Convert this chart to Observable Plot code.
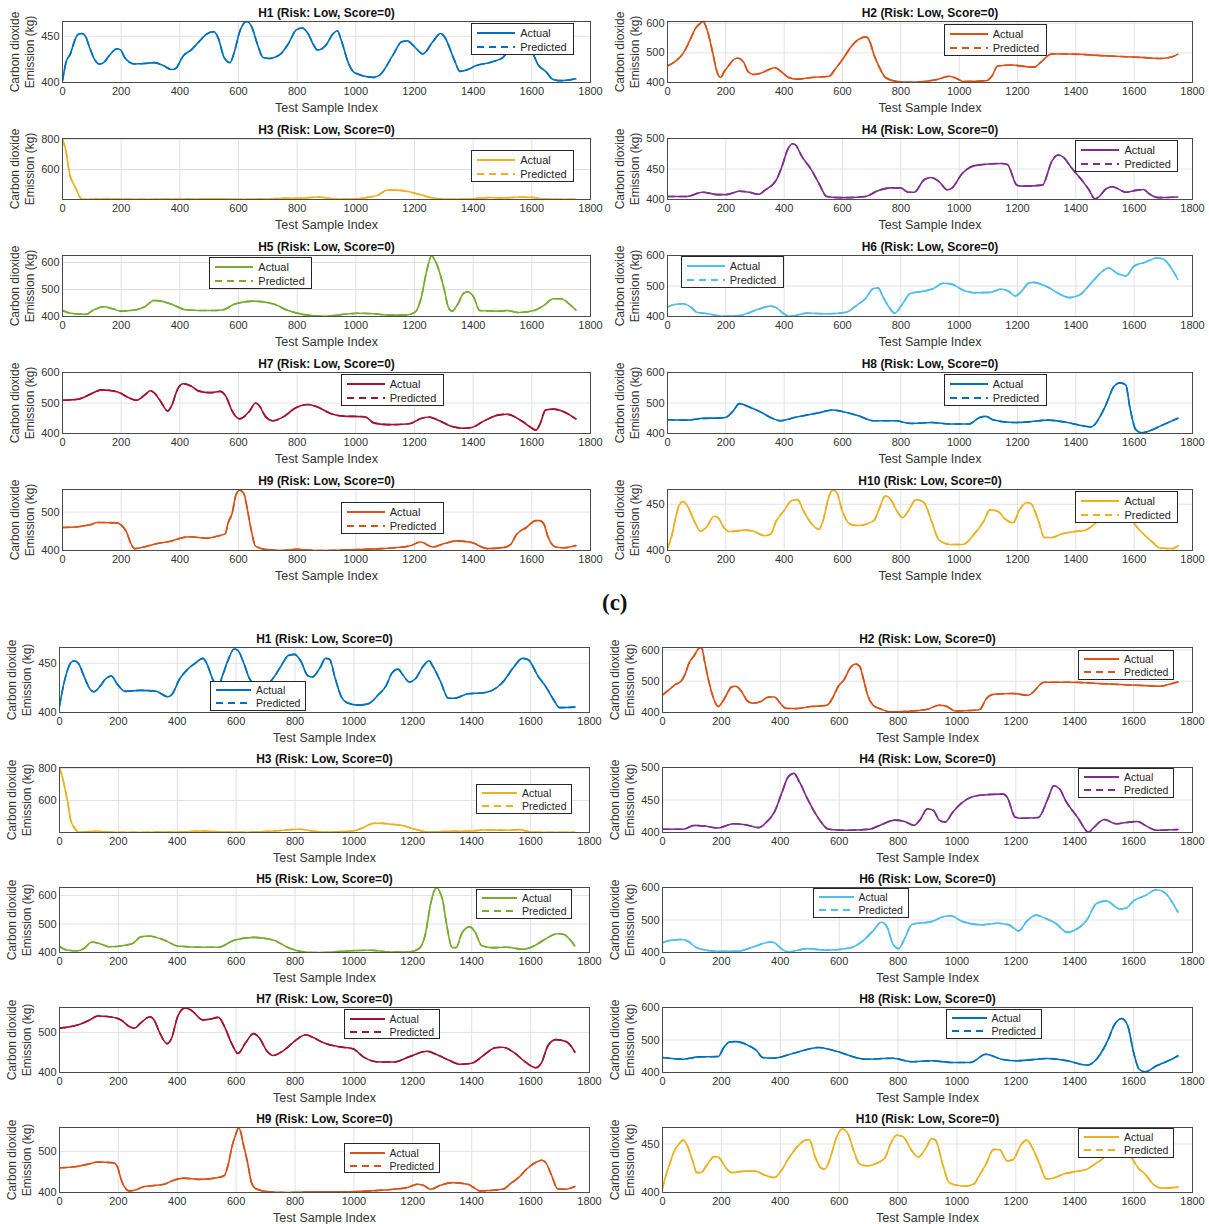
<!DOCTYPE html>
<html>
<head>
<meta charset="utf-8">
<script src="https://cdn.jsdelivr.net/npm/d3@7"></script>
<script src="https://cdn.jsdelivr.net/npm/@observablehq/plot@0.6"></script>
<style>
  body { margin: 0; background: #fff; }
  #page { position: relative; width: 1209px; height: 1224px; overflow: hidden; background: #fff;
          font-family: "Liberation Sans", Arial, Helvetica, sans-serif; }
  .panel { position: absolute; }
  .legend { position: absolute; background: #fff; border: 1px solid #262626; box-sizing: border-box;
            color: #262626; }
  .legend .row { position: absolute; left: 4px; display: flex; align-items: center; }
  .legend .row span { margin-left: 4px; white-space: nowrap; }
  .ylabel { position: absolute; width: 110px; height: 30px; font-size: 12px; line-height: 15px;
            text-align: center; color: #333; transform: rotate(-90deg); white-space: nowrap; }
  .tag { position: absolute; font-family: "Liberation Serif", "DejaVu Serif", serif; font-weight: bold;
         font-size: 23px; color: #111; }
</style>
</head>
<body>
<div id="page"></div>
<script>
// ---- shared labels ----
const houses = ["H1", "H2", "H3", "H4", "H5", "H6", "H7", "H8", "H9", "H10"];
const riskLevels = ["Low", "Low", "Low", "Low", "Low", "Low", "Low", "Low", "Low", "Low"];
const riskScores = [0, 0, 0, 0, 0, 0, 0, 0, 0, 0];
const xTicks = [0, 200, 400, 600, 800, 1000, 1200, 1400, 1600, 1800];
const seriesNames = ["Actual", "Predicted"];
const yLabelLines = ["Carbon dioxide", "Emission (kg)"];
const houseColors = ["#0072BD", "#D95319", "#EDB120", "#7E2F8E", "#77AC30",
                     "#4DBEEE", "#A2142F", "#0072BD", "#D95319", "#EDB120"];

// ---- upper set: CO2 emission per test sample [index, kg] ----
const upperH1 = [[0,402],[13,423],[27,431],[40,444],[53,452],[66,453],[80,449],[90,440],[106,427],[126,420],[140,421.5],[159,429],[186,436.5],[199,435],[212,427],[246,420],[279,420.5],[312,421.5],[345,418],[372,414],[385,415],[412,429],[438,435],[465,444],[492,452.5],[516,455],[531,448],[551,427],[571,421.5],[584,431],[604,455],[627,466],[644,461],[664,442],[684,427],[704,426],[744,431],[770,442],[797,457],[817,459],[837,453],[857,440],[870,435],[897,440],[923,453],[937,456],[950,446],[976,420],[996,410.5],[1063,405.5],[1083,408.5],[1129,431],[1156,444],[1176,445],[1196,440],[1229,431],[1262,444],[1289,453],[1302,449.5],[1335,425],[1355,412],[1382,414],[1408,418],[1461,422],[1501,427],[1530,440],[1560,454],[1580,452],[1607,429],[1620,420],[1647,412],[1674,403],[1700,402],[1750,404]];
const upperH2 = [[0,455.5],[29,473],[49,492.5],[62,513],[82,554],[96,583],[116,602],[122,606],[136,577],[156,496],[169,438],[182,417],[195,438],[209,455.5],[229,479],[242,482],[262,467],[275,438],[295,427],[322,432],[348,444],[368,450],[388,438],[415,417],[441,411.5],[495,417],[554,421],[574,444],[601,479],[628,519],[654,545],[681,554],[694,537],[707,496],[727,450],[747,417],[787,403.5],[840,401],[920,409],[966,421],[993,413],[1013,403.5],[1093,406],[1112,421],[1132,455.5],[1185,459],[1212,455.5],[1258,452],[1278,467],[1318,496],[1372,496],[1505,490],[1638,484],[1691,481],[1731,487],[1750,496]];
const upperH3 = [[0,800],[13,709],[20,618],[27,550],[37,505],[47,470],[60,414],[67,403],[80,403],[140,406],[200,404],[260,402],[350,404],[420,404],[478,405],[520,406],[560,404],[620,403],[700,404],[760,409],[820,410],[870,418],[900,412],[930,404],[1000,405],[1040,415],[1076,430],[1107,464],[1140,463],[1182,452],[1222,432],[1275,407],[1320,403],[1400,406],[1453,414],[1500,412],[1560,416],[1600,415],[1640,404],[1700,403],[1750,403]];
const upperH4 = [[0,405],[67,405],[120,412],[173,408],[200,408],[246,413.5],[280,412],[313,408.5],[333,415],[373,432],[393,455],[413,483],[429,491.5],[440,489],[459,472],[493,449],[519,426.5],[546,405],[599,403],[679,405],[719,414],[766,419],[799,419],[826,412],[846,412],[879,432],[903,436],[932,429],[959,416],[972,417.5],[1012,443.5],[1058,456],[1145,459],[1165,457.5],[1198,423.5],[1218,422],[1285,423.5],[1318,463],[1338,473],[1358,469],[1385,452],[1425,429],[1445,416],[1465,401],[1478,404],[1505,418],[1525,421],[1572,412],[1605,415],[1632,416.5],[1651,409.5],[1685,403],[1750,404]];
const upperH5 = [[0,422],[27,412],[80,408],[106,424],[140,436],[173,428],[199,420],[246,424],[279,435],[312,459.5],[332,458],[372,445],[425,424],[505,422],[545,424],[585,445],[651,457],[717,447],[770,422],[823,407],[890,400.5],[943,406],[1010,412],[1063,410],[1116,405],[1169,405],[1202,416],[1222,466],[1242,571],[1258,624],[1275,596],[1302,497],[1315,435],[1328,420],[1348,447],[1368,487],[1382,491],[1402,472],[1422,422],[1488,420],[1515,422],[1554,415],[1607,422],[1641,441],[1674,466],[1700,466],[1727,447],[1750,424]];
const upperH6 = [[0,431],[27,440],[53,442],[80,431],[100,414],[140,409],[186,401],[246,403],[306,422],[353,434],[373,429],[399,409],[419,401],[479,411],[546,409],[612,414],[652,439],[679,459],[706,492],[722,494],[739,464],[759,431],[779,411],[806,442],[833,476],[866,481],[912,492],[945,509],[972,507],[1012,487],[1052,478],[1105,479],[1145,490],[1172,481],[1192,467],[1212,481],[1238,509],[1252,512],[1305,496],[1345,473],[1378,462],[1412,470],[1452,509],[1491,548],[1511,559],[1545,540],[1572,533],[1598,564],[1638,578],[1678,592],[1698,589],[1731,553],[1750,522]];
const upperH7 = [[0,509],[53,512.5],[106,534],[133,543],[186,537],[226,517],[252,509],[286,531],[299,540],[312,534],[332,509],[359,474],[372,491],[392,545],[412,563],[438,556],[465,539],[505,534],[538,538],[558,520],[578,474],[604,448],[638,474],[658,500],[671,491],[691,457],[717,442],[757,457],[791,482],[837,495],[863,489],[916,465],[956,457],[1030,455],[1063,434],[1116,429],[1182,432],[1222,449],[1249,454],[1275,446],[1328,423],[1368,417],[1395,419.5],[1435,440],[1488,461],[1515,463],[1567,440],[1601,417],[1614,411],[1627,429],[1647,477],[1674,480],[1714,469],[1750,448]];
const upperH8 = [[0,445],[67,444],[120,449.5],[186,451],[200,453],[226,475],[246,498],[280,487],[320,470],[359,450],[386,442],[439,453],[519,468],[566,477],[599,472],[652,459],[706,442],[786,442],[812,436],[839,433],[905,436],[972,431],[1032,431],[1072,453],[1092,456],[1118,444],[1185,436],[1238,438],[1305,444],[1372,436],[1425,425],[1452,421],[1485,459],[1505,498],[1531,555],[1551,566],[1571,560],[1585,487],[1605,413.5],[1625,402],[1651,408],[1691,425],[1750,450]];
const upperH9 = [[0,460],[53,462],[93,467],[120,473],[186,472],[199,467],[219,447],[232,420],[246,405],[266,407],[319,417.5],[372,425],[412,434],[432,436],[492,432],[531,438],[555,444],[565,473],[578,496],[591,544],[604,557],[618,549],[631,504],[644,451],[658,411.5],[691,403],[744,400],[797,403],[877,400],[983,402],[1089,405],[1182,411.5],[1222,422],[1262,409],[1302,418],[1342,425],[1395,421],[1448,405],[1501,407.5],[1528,416],[1548,442],[1581,460],[1614,478],[1627,478],[1641,469],[1654,438],[1681,409],[1707,407],[1750,413]];
const upperH10 = [[0,402],[13,414],[27,434],[40,449],[53,453],[67,449],[93,431],[113,421],[133,425],[160,437],[173,435.5],[193,425],[213,420.5],[266,422],[293,421],[333,416],[353,417.5],[373,432],[399,443],[426,454],[446,455],[466,443],[499,427],[519,423],[533,432],[553,458],[566,465],[579,463.5],[599,443],[626,428.5],[652,427],[706,432],[726,445],[746,459],[766,455],[786,443],[806,435.5],[826,443],[852,455],[879,452],[905,432],[932,411],[972,406.5],[1012,406.5],[1052,418],[1085,432],[1105,444],[1132,442.5],[1158,434],[1185,430],[1205,443],[1232,452],[1245,451],[1272,432],[1292,414],[1318,414],[1352,418],[1398,420.5],[1432,422],[1465,429],[1500,440],[1530,452],[1560,450],[1605,427],[1638,416],[1665,408.5],[1685,403],[1731,402],[1750,405]];

// ---- set (c): CO2 emission per test sample [index, kg] ----
const lowerH1 = [[0,406.5],[11,424],[24,440],[37,450],[50,452.5],[64,450],[83,437],[103,424],[116,421],[136,426],[156,434],[176,437],[196,429],[222,421.5],[275,422.5],[328,421.5],[368,416],[381,418],[408,434],[434,443.5],[461,450],[487,455],[500,450],[520,434],[540,427],[553,437],[573,453.5],[593,464.5],[606,463],[626,450],[646,434],[670,428],[700,428],[725,434.5],[752,447],[778,458],[798,459],[818,453],[844,437],[858,436],[884,445],[904,455],[917,454],[937,434],[957,416],[977,410],[1016,407.5],[1050,409],[1083,418],[1109,427],[1129,440],[1149,444],[1169,437],[1188,431],[1208,434],[1235,447],[1255,452.5],[1268,447],[1294,431.5],[1321,414.5],[1341,414.5],[1387,419],[1440,420],[1473,423],[1506,431],[1545,447],[1572,455],[1592,453.5],[1625,437],[1652,426],[1678,413],[1698,405],[1750,405.5]];
const lowerH2 = [[0,456],[24,474],[43,489.5],[63,500],[76,521],[90,558],[109,584],[123,605],[133,608],[142,568],[156,505],[169,458],[182,426],[189,419],[202,431.5],[215,452.5],[235,482],[248,484],[268,468],[288,437],[307,429.5],[334,435],[360,449.5],[380,449.5],[400,429.5],[419,413.5],[452,412.5],[505,419],[558,423],[578,447],[597,484],[617,505],[637,542],[657,555],[670,547],[683,505],[696,458],[716,423],[743,410.5],[775,402],[847,405],[900,410.5],[940,423],[966,419],[993,405],[1059,407],[1079,410.5],[1098,442],[1124,458],[1190,461],[1243,455],[1256,463],[1296,497],[1375,497],[1507,491.5],[1639,486],[1692,484],[1725,491.5],[1750,498]];
const lowerH3 = [[0,806],[11,737],[21,653],[30,568],[37,484],[50,432],[64,404],[116,408],[196,402],[300,403],[400,404],[487,410],[560,404],[640,403],[725,410],[818,421],[858,410],[897,403],[990,408],[1030,431],[1069,459],[1100,458],[1122,453],[1162,446],[1201,425],[1255,404],[1321,408],[1387,408],[1440,417],[1519,415],[1560,419],[1600,404],[1652,402],[1750,403]];
const lowerH4 = [[0,405],[70,405],[109,411],[142,410],[189,407],[241,413.5],[281,412],[327,407.5],[353,416],[380,431.5],[406,462],[426,485],[446,491],[466,477],[492,452],[531,421],[564,405],[624,403.5],[703,405],[743,412],[789,419],[822,417],[854,411],[874,419],[900,436.5],[920,434],[940,419],[960,416],[986,431.5],[1019,446.5],[1072,457],[1158,459],[1171,454],[1197,424],[1217,422],[1276,423],[1309,452],[1329,472],[1349,467],[1369,449],[1409,424],[1448,400.5],[1461,406],[1501,420],[1540,413.5],[1586,416],[1613,417],[1639,411],[1678,403.5],[1750,404.5]];
const lowerH5 = [[0,421],[24,409],[64,406],[83,414],[110,437],[143,429],[169,420],[222,425.5],[249,432],[275,454],[302,458],[355,444],[401,423],[487,418.5],[540,418.5],[593,443],[659,453],[725,444],[778,417],[831,402],[884,400],[990,406],[1056,408],[1122,402],[1188,402],[1221,414],[1241,458],[1261,573],[1271,612],[1281,627],[1292,612],[1301,585],[1314,503],[1334,417],[1347,417],[1367,469],[1393,490],[1413,469],[1433,425],[1466,417],[1519,418.5],[1572,411.5],[1612,423],[1652,448.5],[1691,466],[1711,464],[1750,423]];
const lowerH6 = [[0,430],[30,438],[63,440],[90,433],[109,418],[149,407],[189,404],[255,404],[307,417],[367,432.5],[380,430],[406,410],[426,402],[492,412],[551,407],[637,414],[676,432.5],[716,467.5],[743,493],[762,480],[782,427],[802,412],[822,442],[848,487],[914,495],[953,510],[979,513],[1019,495],[1085,485],[1138,490],[1177,485],[1210,466],[1236,495],[1269,515],[1296,507],[1335,490],[1375,462],[1401,469],[1441,500],[1474,551],[1507,559],[1553,534],[1573,536],[1600,559],[1639,575],[1678,593],[1705,585],[1731,555],[1750,525]];
const lowerH7 = [[0,510.5],[64,519],[103,531],[130,541],[169,539],[209,531],[236,515],[255,510.5],[275,523],[308,539],[321,531],[341,498],[365,472],[381,486],[401,539],[427,561],[447,555.5],[487,531],[513,533],[540,537.5],[560,515],[586,470],[606,447.5],[632,474],[659,497],[679,486],[705,453],[725,442.5],[765,457],[805,482],[837,494],[858,488.5],[897,474],[950,464],[996,459],[1036,437],[1089,426],[1135,426],[1188,439],[1248,453],[1281,445],[1321,431],[1360,420.5],[1400,423],[1440,442.5],[1479,461.5],[1506,463],[1545,449],[1585,424.5],[1618,412],[1638,426],[1658,465.5],[1685,482],[1718,478],[1738,465.5],[1750,451]];
const lowerH8 = [[0,446],[70,441],[123,448],[189,449],[208,477],[228,494],[248,495],[294,482],[320,467],[340,446],[373,444],[452,461],[531,477],[584,467],[690,441],[782,444],[848,433],[914,436],[980,431],[1046,431],[1098,456],[1151,441],[1204,436],[1309,443],[1375,436],[1441,422.5],[1474,441],[1494,467],[1514,502],[1533,544],[1560,566],[1580,544],[1600,461.5],[1619,410],[1639,402],[1678,420.5],[1718,436],[1750,451]];
const lowerH9 = [[0,460],[64,464],[103,470],[130,474],[183,472],[196,464],[209,432],[222,412],[236,404],[255,405.5],[288,414.5],[328,417.5],[355,420],[388,430],[421,435],[474,432],[527,435],[560,441.5],[573,468],[586,512],[600,544],[609,557.5],[626,512],[639,472],[652,424],[666,409.5],[712,401.5],[765,400],[858,401.5],[964,401.5],[1056,404],[1135,408],[1182,412],[1215,420],[1235,417.5],[1261,408],[1294,417.5],[1334,424],[1387,420],[1407,412],[1427,404],[1506,408],[1533,422.5],[1559,436],[1585,456],[1618,473.5],[1638,478.5],[1652,472],[1672,440],[1691,409.5],[1718,408],[1750,414.5]];
const lowerH10 = [[0,404],[11,417],[24,429],[37,440.5],[57,450.5],[70,454],[83,449],[103,432],[116,420.5],[129,420.5],[156,430.5],[175,437],[189,436.5],[215,425.5],[235,420.5],[281,422],[314,422],[347,418],[380,415.5],[400,421],[426,434],[459,447.5],[485,454],[499,454.5],[518,437],[538,425.5],[551,424],[571,437],[591,457],[611,465.5],[630,460.5],[650,442.5],[670,429],[696,427.5],[729,430.5],[755,435.5],[775,450.5],[795,459],[815,458],[848,442.5],[868,436.5],[894,445.5],[914,455.5],[927,454],[953,427.5],[973,410.5],[993,408],[1026,406.5],[1059,409],[1072,415.5],[1098,429],[1125,444.5],[1145,444],[1171,432.5],[1191,434],[1217,449],[1237,454],[1257,445.5],[1283,427.5],[1303,414],[1329,415],[1362,419],[1402,421.5],[1441,424],[1474,430.5],[1494,434.5],[1520,445],[1545,452],[1570,446],[1600,432.5],[1619,424],[1639,419],[1665,409],[1692,404.5],[1750,405.5]];

// ---- y axis limits and tick values for each panel ----
const upperYDomains = [[400,466],[400,606],[401,806],[400,500],[400,626],[400,600],[400,600],[400,600],[400,559],[400,466]];
const upperYTicks = [[400,450],[400,500,600],[600,800],[400,450,500],[400,500,600],[400,500,600],[400,500,600],[400,500,600],[400,500],[400,450]];
const lowerYDomains = [[400,466],[400,608],[401,806],[400,500],[400,628],[400,600],[400,562],[400,600],[400,558],[400,467]];
const lowerYTicks = [[400,450],[400,500,600],[600,800],[400,450,500],[400,500,600],[400,500,600],[400,500],[400,500,600],[400,500],[400,450]];

// ---- legend placement inside each axes (fraction of plot width / height) ----
const upperLegendAt = [[0.775,0.03],[0.527,0.045],[0.775,0.2],[0.778,0.03],[0.279,0.028],[0.026,0.02],[0.528,0.03],[0.527,0.03],[0.528,0.22],[0.778,0.03]];
const lowerLegendAt = [[0.285,0.52],[0.785,0.04],[0.787,0.26],[0.785,0.015],[0.787,0.03],[0.284,0.015],[0.537,0.035],[0.535,0.025],[0.537,0.25],[0.785,0.015]];

const upperSeries = [upperH1, upperH2, upperH3, upperH4, upperH5, upperH6, upperH7, upperH8, upperH9, upperH10];
const lowerSeries = [lowerH1, lowerH2, lowerH3, lowerH4, lowerH5, lowerH6, lowerH7, lowerH8, lowerH9, lowerH10];

// grid geometry of the two panel sets
const upperLayout = {top: 0, step: 117, plotH: 61, marginTop: 21,
  cols: [{left: 0, width: 600, ml: 62, mr: 10}, {left: 600, width: 609, ml: 67, mr: 17}],
  legend: {w: 103, h: 32, line: 40, font: 11}};
const lowerLayout = {top: 626, step: 120, plotH: 65, marginTop: 21,
  cols: [{left: 0, width: 600, ml: 59, mr: 11}, {left: 600, width: 609, ml: 62, mr: 17}],
  legend: {w: 96, h: 30, line: 37, font: 10.5}};

const page = document.getElementById("page");
const plainNumber = (d) => String(d);

function makeLegend(color, spec) {
  const {w, h, line, font} = spec;
  const box = document.createElement("div");
  box.className = "legend";
  box.style.width = w + "px";
  box.style.height = h + "px";
  box.style.fontSize = font + "px";
  seriesNames.forEach((name, i) => {
    const row = document.createElement("div");
    row.className = "row";
    row.style.top = (i === 0 ? 1 : h / 2 - 1) + "px";
    row.style.height = (h / 2) + "px";
    const dash = i === 0 ? "" : 'stroke-dasharray="7 5"';
    row.innerHTML = `<svg width="${line}" height="6"><line x1="1" x2="${line - 1}" y1="3" y2="3" stroke="${color}" stroke-width="1.8" ${dash}/></svg><span>${name}</span>`;
    box.appendChild(row);
  });
  return box;
}

function makeYLabel(cx, cy) {
  const el = document.createElement("div");
  el.className = "ylabel";
  el.innerHTML = yLabelLines.join("<br>");
  el.style.left = (cx - 55) + "px";
  el.style.top = (cy - 15) + "px";
  return el;
}

function drawSet(seriesList, yDomains, yTicks, legendAt, L) {
  seriesList.forEach((series, i) => {
    const col = L.cols[i % 2];
    const row = Math.floor(i / 2);
    const color = houseColors[i];
    const rows = series.map(([x, y]) => ({x, y}));
    const height = L.step;
    const marginBottom = height - L.marginTop - L.plotH;
    const title = `${houses[i]} (Risk: ${riskLevels[i]}, Score=${riskScores[i]})`;

    const chart = Plot.plot({
      width: col.width,
      height,
      marginLeft: col.ml,
      marginRight: col.mr,
      marginTop: L.marginTop,
      marginBottom,
      style: {fontFamily: '"Liberation Sans", Arial, Helvetica, sans-serif', fontSize: "11px",
              color: "#333", background: "transparent", overflow: "visible"},
      x: {domain: [0, 1800]},
      y: {domain: yDomains[i]},
      marks: [
        Plot.gridX(xTicks, {stroke: "#e2e2e2", strokeOpacity: 1}),
        Plot.gridY(yTicks[i], {stroke: "#e2e2e2", strokeOpacity: 1}),
        Plot.line(rows, {x: "x", y: "y", stroke: color, strokeWidth: 1.6, curve: "monotone-x", clip: true}),
        Plot.line(rows, {x: "x", y: "y", stroke: color, strokeWidth: 1.6, strokeDasharray: "7 5", curve: "monotone-x", clip: true}),
        Plot.frame({stroke: "#4a4a4a", strokeWidth: 1}),
        Plot.axisX(xTicks, {anchor: "bottom", tickSize: 0, tickPadding: 5, label: null, fill: "#333", tickFormat: plainNumber}),
        Plot.axisY(yTicks[i], {anchor: "left", tickSize: 0, tickPadding: 3, label: null, fill: "#333", tickFormat: plainNumber}),
        Plot.text([title], {text: (d) => d, frameAnchor: "top", lineAnchor: "middle", dy: -8.5,
                            fontWeight: "bold", fontSize: 12, fill: "#111"}),
        Plot.text(["Test Sample Index"], {text: (d) => d, frameAnchor: "bottom", lineAnchor: "middle", dy: 25,
                                          fontSize: 12.5, fill: "#333"})
      ]
    });

    const wrap = document.createElement("div");
    wrap.className = "panel";
    wrap.style.left = col.left + "px";
    wrap.style.top = (L.top + row * L.step) + "px";
    wrap.style.width = col.width + "px";
    wrap.style.height = height + "px";
    wrap.appendChild(chart);

    wrap.appendChild(makeYLabel(col.ml - 39.5, L.marginTop + L.plotH / 2));

    const plotW = col.width - col.ml - col.mr;
    const lg = makeLegend(color, L.legend);
    lg.style.left = (col.ml + legendAt[i][0] * plotW) + "px";
    lg.style.top = (L.marginTop + legendAt[i][1] * L.plotH) + "px";
    wrap.appendChild(lg);

    page.appendChild(wrap);
  });
}

drawSet(upperSeries, upperYDomains, upperYTicks, upperLegendAt, upperLayout);
drawSet(lowerSeries, lowerYDomains, lowerYTicks, lowerLegendAt, lowerLayout);

// sub-figure tag between the two sets
const tag = document.createElement("div");
tag.className = "tag";
tag.textContent = "(c)";
tag.style.left = "602px";
tag.style.top = "590px";
page.appendChild(tag);
</script>
</body>
</html>
